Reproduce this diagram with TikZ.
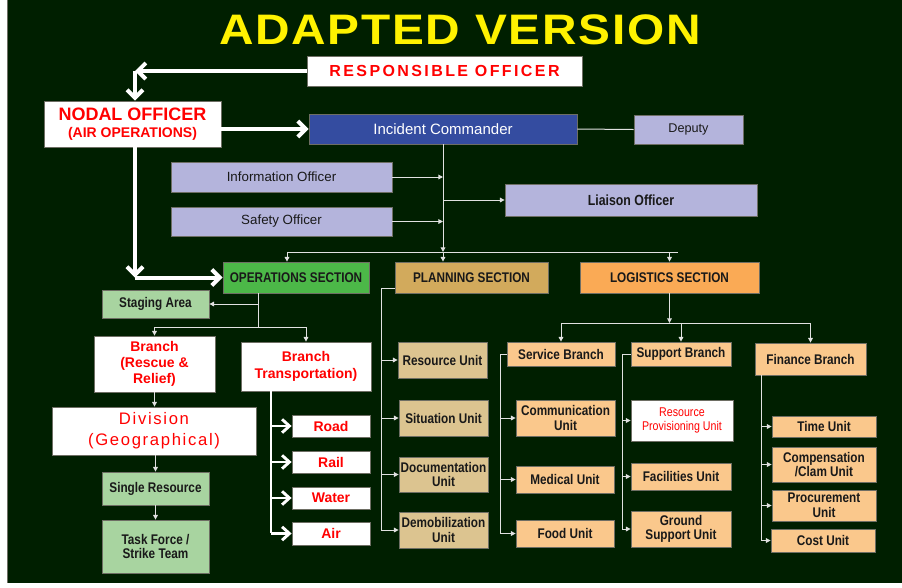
\documentclass[tikz,border=0pt]{standalone}
\usepackage{fontspec}
\setmainfont{Liberation Sans}
\newfontfamily\titlefont[FakeStretch=1.12,LetterSpace=4]{Liberation Sans}
\newfontfamily\widefont[LetterSpace=15]{Liberation Sans}
\newfontfamily\divfont[LetterSpace=10]{Liberation Sans}
\newfontfamily\narrowfont[FakeStretch=0.84]{Liberation Sans}
\usetikzlibrary{arrows.meta}

\definecolor{bggreen}{RGB}{0,31,0}
\definecolor{lavender}{RGB}{180,180,220}
\definecolor{icblue}{RGB}{52,76,160}
\definecolor{opsgreen}{RGB}{76,184,72}
\definecolor{lightgreen}{RGB}{168,212,160}
\definecolor{plantan}{RGB}{210,170,92}
\definecolor{planunit}{RGB}{220,196,144}
\definecolor{logorange}{RGB}{250,170,85}
\definecolor{unitorange}{RGB}{250,200,140}
\definecolor{linegray}{RGB}{225,225,225}
\definecolor{boxline}{RGB}{110,110,100}
\definecolor{ink}{RGB}{25,25,25}

\tikzset{sz/.style 2 args={minimum width=#1*0.75pt,minimum height=#2*0.75pt}}

\begin{document}
\begin{tikzpicture}[x=0.75pt,y=0.75pt,yscale=-1,xscale=1,
  box/.style={draw=boxline,line width=0.6pt,inner sep=1pt,align=center,text=ink,
    font=\narrowfont\bfseries\fontsize{10.5}{11}\selectfont},
  officer/.style={box,fill=lavender,font=\fontsize{10}{12}\selectfont},
  redbox/.style={box,fill=white,text=red,font=\bfseries\fontsize{10.5}{12}\selectfont},
  opsbox/.style={box,fill=lightgreen},
  planbox/.style={box,fill=planunit},
  unitbox/.style={box,fill=unitorange},
  link/.style={draw=linegray,line width=0.75pt},
  arr/.style={link,-{Triangle[length=3.5pt,width=3.5pt]}},
  bigline/.style={draw=white,line width=3pt},
  bigarr/.style={bigline,-{Straight Barb[length=6pt,width=12pt]}},
  midarr/.style={draw=white,line width=2.2pt,-{Straight Barb[length=5.5pt,width=10pt]}},
  ]
\useasboundingbox (0,0) rectangle (902,587);
%Shape: Background
\fill[white] (0,0) rectangle (902,587);
\fill[bggreen] (7,0) rectangle (902,583);
\draw[boxline,line width=0.5pt] (7,0) -- (7,583);

%Title
\node[text=yellow,font=\titlefont\bfseries\fontsize{32}{32}\selectfont] (title) at (460,30) {ADAPTED VERSION};

%Top of the chart
\node[box,fill=white,sz={275}{30},text=red,font=\widefont\bfseries\fontsize{12}{14}\selectfont] (ro) at (444.5,71) {RESPONSIBLE OFFICER};
\node[box,fill=white,sz={177}{46},text=red,font=\bfseries\fontsize{13.5}{12.75}\selectfont] (no) at (132.5,124) {NODAL OFFICER\\{\fontsize{10.5}{12}\selectfont(AIR OPERATIONS)}};
\node[box,fill=icblue,sz={268}{30},text=white,font=\fontsize{11.25}{13}\selectfont] (ic) at (443,129) {Incident Commander};
\node[officer,sz={109}{29},font=\fontsize{9.5}{11}\selectfont] (deputy) at (688.5,129.5) {Deputy};
\node[officer,sz={221}{30}] (info) at (281.5,177) {Information Officer};
\node[officer,sz={221}{29}] (safety) at (281.5,221.5) {Safety Officer};
\node[box,fill=lavender,sz={252}{32},font=\narrowfont\bfseries\fontsize{11}{12}\selectfont] (liaison) at (631,200) {Liaison Officer};

%Sections
\node[box,fill=opsgreen,sz={146}{31}] (ops) at (296,277.5) {OPERATIONS SECTION};
\node[box,fill=plantan,sz={153}{31}] (planning) at (471.5,277.5) {PLANNING SECTION};
\node[box,fill=logorange,sz={179}{31}] (logistics) at (669.5,277.5) {LOGISTICS SECTION};

%Operations
\node[opsbox,sz={107}{28}] (staging) at (155.5,304) {Staging Area};
\node[redbox,sz={121}{56}] (branchrr) at (154.5,364) {Branch\\(Rescue \&\\Relief)};
\node[redbox,sz={130}{49},font=\bfseries\fontsize{10.5}{13}\selectfont] (branchtr) at (306,366.5) {Branch\\Transportation)};
\node[box,fill=white,sz={204}{48},text=red,font=\divfont\fontsize{12.5}{15.5}\selectfont] (division) at (154,431) {Division\\(Geographical)};
\node[opsbox,sz={107}{33}] (single) at (155.5,488.5) {Single Resource};
\node[opsbox,sz={107}{53}] (task) at (155.5,546.5) {Task Force /\\Strike Team};
\node[redbox,sz={78}{22}] (road) at (331,426) {Road};
\node[redbox,sz={78}{22}] (rail) at (331,462) {Rail};
\node[redbox,sz={78}{22}] (water) at (331,498) {Water};
\node[redbox,sz={78}{23}] (air) at (331,533.5) {Air};

%Planning
\node[planbox,sz={89}{36}] (resunit) at (442.5,360) {Resource Unit};
\node[planbox,sz={89}{36}] (situnit) at (443.5,418) {Situation Unit};
\node[planbox,sz={89}{35}] (docunit) at (443.5,474.5) {Documentation\\Unit};
\node[planbox,sz={89}{36}] (demob) at (443.5,530) {Demobilization\\Unit};

%Logistics
\node[unitbox,sz={108}{24}] (servb) at (561,354) {Service Branch};
\node[unitbox,sz={100}{24}] (suppb) at (681,354) {Support Branch};
\node[unitbox,sz={111}{32}] (finb) at (810.5,359) {Finance Branch};
\node[unitbox,sz={99}{36}] (comm) at (565.5,418) {Communication\\Unit};
\node[unitbox,sz={98}{27}] (medical) at (565,479.5) {Medical Unit};
\node[unitbox,sz={98}{27}] (food) at (565,533.5) {Food Unit};
\node[box,fill=white,sz={102}{41},text=red,font=\narrowfont\fontsize{9.5}{11}\selectfont] (provision) at (682,420.5) {Resource\\Provisioning Unit};
\node[unitbox,sz={100}{27}] (facil) at (681,476.5) {Facilities Unit};
\node[unitbox,sz={100}{36}] (ground) at (681,529) {Ground\\Support Unit};
\node[unitbox,sz={104}{21}] (timeu) at (824,426.5) {Time Unit};
\node[unitbox,sz={104}{35}] (compu) at (824,464.5) {Compensation\\/Clam Unit};
\node[unitbox,sz={104}{31}] (procu) at (824,505.5) {Procurement\\Unit};
\node[unitbox,sz={104}{23}] (costu) at (823,540.5) {Cost Unit};

%Thick white arrows
\coordinate (c1) at (135,71);
\coordinate (c2) at (135,277.5);
\draw[bigarr] (ro.west) -- (c1);
\draw[bigarr] (c1) -- (c1 |- no.north);
\draw[bigarr] (no.east |- ic.west) -- (ic.west);
\draw[bigarr] (c1 |- no.south) -- (c2);
\draw[bigarr] (c2) -- (ops.west);

%Command staff
\coordinate (bus) at (443,252);
\coordinate (busl) at (287,252);
\coordinate (busr) at (678,252);
\draw[link] (ic.east) -- (deputy.west);
\draw[arr] (ic.south) -- (bus);
\draw[arr] (info.east) -- (info.east -| bus);
\draw[arr] (safety.east) -- (safety.east -| bus);
\draw[arr] (bus |- liaison.west) -- (liaison.west);
\draw[link] (busl) -- (busr);
\draw[arr] (busl) -- (busl |- ops.north);
\draw[arr] (bus) -- (bus |- planning.north);
\draw[arr] (bus -| logistics.north) -- (logistics.north);

%Operations lines
\coordinate (opx) at (258,327);
\draw[link] (opx |- ops.south) -- (opx);
\draw[arr] (opx |- staging.east) -- (staging.east);
\draw[link] (branchrr.north |- opx) -- (branchtr.north |- opx);
\draw[arr] (branchrr.north |- opx) -- (branchrr.north);
\draw[arr] (branchtr.north |- opx) -- (branchtr.north);
\draw[arr] (branchrr.south) -- (branchrr.south |- division.north);
\draw[arr] (division.south -| single.north) -- (single.north);
\draw[arr] (single.south) -- (task.north);
\coordinate (trx) at (271,533);
\draw[draw=white,line width=2.2pt] (trx |- branchtr.south) -- (trx);
\foreach \n in {road,rail,water,air}
  \draw[midarr] (trx |- \n.west) -- (\n.west);

%Planning lines
\coordinate (plx) at (381,288);
\draw[link] (plx -| planning.west) -- (plx) -- (plx |- demob.west);
\foreach \n in {resunit,situnit,docunit,demob}
  \draw[arr] (plx |- \n.west) -- (\n.west);

%Logistics lines
\coordinate (lbus) at (669.5,323);
\draw[arr] (logistics.south) -- (lbus);
\draw[link] (servb.north |- lbus) -- (finb.north |- lbus);
\foreach \n in {servb,suppb,finb}
  \draw[arr] (\n.north |- lbus) -- (\n.north);
\coordinate (svx) at (500,355);
\draw[link] (servb.west) -- (servb.west -| svx) -- (svx |- food.west);
\foreach \n in {comm,medical,food}
  \draw[arr] (svx |- \n.west) -- (\n.west);
\coordinate (spx) at (622,355);
\draw[link] (suppb.west) -- (suppb.west -| spx) -- (spx |- ground.west);
\foreach \n in {provision,facil,ground}
  \draw[arr] (spx |- \n.west) -- (\n.west);
\coordinate (fnx) at (761,375);
\draw[link] (finb.south -| fnx) -- (fnx |- costu.west);
\foreach \n in {timeu,compu,procu,costu}
  \draw[arr] (fnx |- \n.west) -- (\n.west);
\end{tikzpicture}
\end{document}
